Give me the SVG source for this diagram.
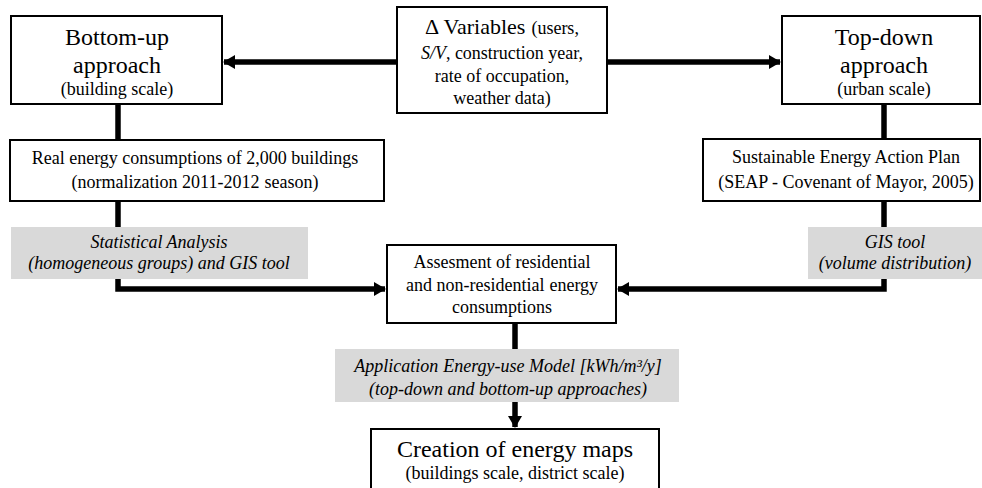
<svg xmlns="http://www.w3.org/2000/svg" width="982" height="488" viewBox="0 0 982 488">
  <style>
    .box { fill: #ffffff; stroke: #000000; stroke-width: 2; }
    .note { fill: #d9d9d9; stroke: none; }
    .link { fill: none; stroke: #000000; stroke-width: 5.5; }
    text { font-family: "Liberation Serif", "Times New Roman", serif; fill: #000000; text-anchor: middle; }
    .big { font-size: 24px; }
    .mid { font-size: 18px; }
    .it { font-size: 18px; font-style: italic; }
  </style>
  <defs>
    <marker id="head" markerUnits="userSpaceOnUse" markerWidth="12" markerHeight="14" refX="11" refY="7" orient="auto">
      <path d="M0,0 L12,7 L0,14 Z" fill="#000000"/>
    </marker>
  </defs>

  <!-- connectors -->
  <g id="connectors">
    <line class="link" x1="397" y1="62" x2="224" y2="62" marker-end="url(#head)"/>
    <line class="link" x1="607" y1="62" x2="780" y2="62" marker-end="url(#head)"/>
    <line class="link" x1="118" y1="104" x2="118" y2="140"/>
    <polyline class="link" points="118,201 118,289 385,289" marker-end="url(#head)"/>
    <line class="link" x1="884" y1="104" x2="884" y2="139"/>
    <polyline class="link" points="884,201 884,289 618,289" marker-end="url(#head)"/>
    <line class="link" x1="515" y1="323" x2="515" y2="427" marker-end="url(#head)"/>
  </g>

  <!-- bottom-up approach -->
  <g id="bottom-up">
    <rect class="box" x="11" y="16" width="211" height="88"/>
    <text class="big" x="117" y="45">Bottom-up</text>
    <text class="big" x="117" y="73">approach</text>
    <text class="mid" x="117" y="95">(building scale)</text>
  </g>

  <!-- input variables -->
  <g id="variables">
    <rect class="box" x="397" y="7" width="210" height="106"/>
    <text x="502" y="34"><tspan font-size="22px">Δ Variables</tspan><tspan class="mid" dx="6">(users,</tspan></text>
    <text class="mid" x="502" y="59"><tspan font-style="italic">S/V</tspan>, construction year,</text>
    <text class="mid" x="502" y="82">rate of occupation,</text>
    <text class="mid" x="502" y="104">weather data)</text>
  </g>

  <!-- top-down approach -->
  <g id="top-down">
    <rect class="box" x="782" y="16" width="198" height="88"/>
    <text class="big" x="884" y="45">Top-down</text>
    <text class="big" x="884" y="73">approach</text>
    <text class="mid" x="884" y="95">(urban scale)</text>
  </g>

  <!-- measured consumptions -->
  <g id="real-consumptions">
    <rect class="box" x="10" y="140" width="374" height="61"/>
    <text class="mid" x="195" y="164">Real energy consumptions of 2,000 buildings</text>
    <text class="mid" x="195" y="188">(normalization 2011-2012<tspan dx="5">season)</tspan></text>
  </g>

  <!-- action plan -->
  <g id="seap">
    <rect class="box" x="703" y="139" width="277" height="62"/>
    <text class="mid" x="846" y="163">Sustainable Energy Action Plan</text>
    <text class="mid" x="846" y="188">(SEAP - Covenant of Mayor, 2005)</text>
  </g>

  <!-- method labels -->
  <g id="statistical-analysis">
    <rect class="note" x="11" y="227" width="297" height="52"/>
    <text class="it" x="159" y="248">Statistical Analysis</text>
    <text class="it" x="159" y="269">(homogeneous groups) and GIS tool</text>
  </g>

  <g id="gis-tool">
    <rect class="note" x="808" y="227" width="174" height="52"/>
    <text class="it" x="895" y="248">GIS tool</text>
    <text class="it" x="895" y="269">(volume distribution)</text>
  </g>

  <!-- assessment -->
  <g id="assessment">
    <rect class="box" x="387" y="245" width="229" height="78"/>
    <text class="mid" x="502" y="268">Assesment of residential</text>
    <text class="mid" x="502" y="291">and non-residential<tspan dx="5">energy</tspan></text>
    <text class="mid" x="502" y="313">consumptions</text>
  </g>

  <g id="energy-model">
    <rect class="note" x="335" y="349" width="344" height="53"/>
    <text class="it" x="508" y="372">Application<tspan dx="5">Energy-use Model [kWh/m³/y]</tspan></text>
    <text class="it" x="508" y="395">(top-down and bottom-up approaches)</text>
  </g>

  <!-- output -->
  <g id="energy-maps">
    <rect class="box" x="371" y="429" width="288" height="70"/>
    <text class="big" x="515" y="457">Creation of energy maps</text>
    <text class="mid" x="515" y="479">(buildings scale, district scale)</text>
  </g>
</svg>
